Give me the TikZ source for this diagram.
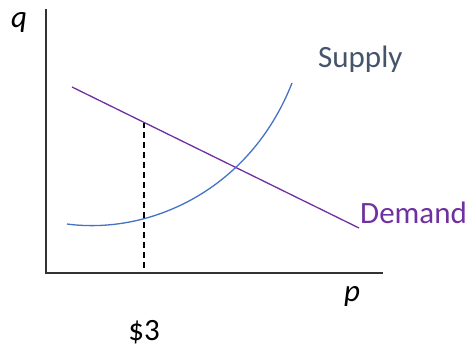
\documentclass[tikz,border=0pt]{standalone}
\usepackage{fontspec}
\setmainfont{Carlito}
\usetikzlibrary{positioning}
\definecolor{demandcol}{HTML}{7030A0}
\definecolor{supplycol}{HTML}{4472C4}
\definecolor{supplytxt}{HTML}{44546A}
\tikzset{
  axis/.style={line width=1.8pt, draw=black!80},
  curve/.style={line width=1.3pt},
  guide/.style={line width=1.2pt, dash pattern=on 6pt off 4pt},
  label/.style={font=\fontsize{31}{31}\selectfont, inner sep=0pt},
  axislabel/.style={label, font=\fontsize{31}{31}\selectfont\itshape}
}
\begin{document}
\begin{tikzpicture}[x=1pt, y=-1pt]
\useasboundingbox (0,0) rectangle (470,348);
\coordinate (top) at (46,9);
\coordinate (origin) at (46,273);
\coordinate (right) at (383,273);
\coordinate (dstart) at (72,87);
\coordinate (dend) at (359,228);
\coordinate (sstart) at (67,224);
\coordinate (send) at (292,83);
\coordinate (price) at (144,268);
\coordinate (pricetop) at (144,123);

\node[axislabel, anchor=base] (qlabel) at (19,27) {q};
\node[axislabel, anchor=base] (plabel) at (352,301) {p};
\node[label, anchor=base] (pricelabel) at (144,340) {\$3};
\node[label, anchor=base west, text=supplytxt] (supplylabel) at (318,67) {Supply};
\node[label, anchor=base west, text=demandcol] (demandlabel) at (360,223) {Demand};

\draw[axis] (top) -- (origin) -- (right);
\draw[curve, demandcol] (dstart) -- (dend);
\draw[curve, supplycol] (sstart) .. controls (150,235) and (250,190) .. (send);
\draw[guide] (price) -- (pricetop);
\end{tikzpicture}
\end{document}
